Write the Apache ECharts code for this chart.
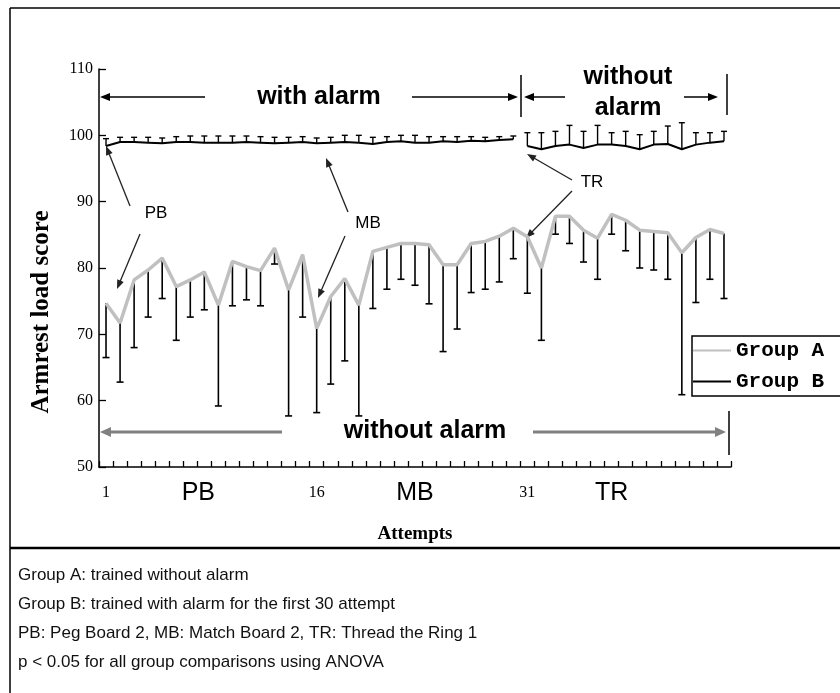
<!DOCTYPE html>
<html><head><meta charset="utf-8">
<script src="https://cdn.jsdelivr.net/npm/echarts@6/dist/echarts.min.js"></script>
<style>html,body{margin:0;padding:0;background:#fff}#c{width:840px;height:693px}</style>
</head><body><div id="c"></div>
<script>
// ---------------- data ----------------
const attempts = ['1','2','3','4','5','6','7','8','9','10','11','12','13','14','15',
  '16','17','18','19','20','21','22','23','24','25','26','27','28','29','30',
  '31','32','33','34','35','36','37','38','39','40','41','42','43','44','45'];
const shownTickLabels = ['1','16','31'];
const taskNames = ['PB','MB','TR'];
const taskLabelAttempt = ['8','23','37'];
const yTicks = [50,60,70,80,90,100,110];

// Group A (trained without alarm): mean and lower end of error bar
const groupAMean = [74.7,71.7,78.2,79.7,81.5,77.2,78.2,79.4,74.4,81.0,80.2,79.6,83.0,76.7,82.0,
  70.9,75.7,78.4,74.4,82.5,83.1,83.7,83.7,83.5,80.5,80.5,83.7,84.0,84.8,86.0,
  84.7,80.0,87.8,87.8,85.7,84.5,88.1,87.2,85.7,85.5,85.3,82.3,84.6,85.8,85.2];
const groupALow = [66.5,62.8,68.0,72.6,75.4,69.1,72.6,73.7,59.2,74.3,75.2,74.3,80.6,57.7,72.6,
  58.2,62.5,66.0,57.7,73.9,76.8,78.3,77.4,74.6,67.4,70.8,76.3,76.8,77.9,81.4,
  76.2,69.1,85.1,83.7,80.9,78.3,85.1,82.6,80.0,79.7,78.3,60.9,74.8,78.3,75.4];

// Group B, attempts 1-30 (with alarm): mean and upper end of error bar
const groupBAlarmMean = [98.4,99.0,99.0,98.9,98.8,99.0,99.0,98.9,98.9,98.9,99.0,98.9,98.8,98.9,99.0,
  98.8,98.9,99.0,98.9,98.7,99.0,99.1,98.9,98.9,99.1,99.0,99.2,99.1,99.3,99.4];
const groupBAlarmHigh = [99.5,99.7,99.7,99.7,99.6,99.8,99.9,99.9,99.9,99.9,99.9,99.8,99.7,99.7,99.8,
  99.6,99.7,100.0,100.0,99.7,99.8,100.0,100.0,99.8,99.8,99.8,99.8,99.7,99.8,99.9];
// Group B, attempts 31-45 (without alarm)
const groupBNoAlarmMean = [98.4,97.9,98.4,98.6,98.1,98.6,98.6,98.4,97.9,98.6,98.7,97.9,98.6,98.9,99.1];
const groupBNoAlarmHigh = [100.4,100.4,100.6,101.5,100.6,101.5,100.4,100.6,100.1,100.6,101.4,101.9,100.4,100.4,100.6];

const notes = [
  'Group A: trained without alarm',
  'Group B: trained with alarm for the first 30 attempt',
  'PB: Peg Board 2, MB: Match Board 2, TR: Thread the Ring 1',
  'p < 0.05 for all group comparisons using ANOVA'
];

// ---------------- build ----------------
const errA = groupAMean.map((m,i)=>[i, m, groupALow[i]]);
const errB = groupBAlarmMean.map((m,i)=>[i, m, groupBAlarmHigh[i]])
  .concat(groupBNoAlarmMean.map((m,i)=>[i+groupBAlarmMean.length, m, groupBNoAlarmHigh[i]]));
const lineB1 = attempts.map((_,i)=> i < groupBAlarmMean.length ? groupBAlarmMean[i] : null);
const lineB2 = attempts.map((_,i)=> i >= groupBAlarmMean.length ? groupBNoAlarmMean[i-groupBAlarmMean.length] : null);

function errRender(capW, lw){
  return function(params, api){
    const p1 = api.coord([api.value(0), api.value(1)]);
    const p2 = api.coord([api.value(0), api.value(2)]);
    return {type:'group', children:[
      {type:'line', shape:{x1:p1[0],y1:p1[1],x2:p2[0],y2:p2[1]}, style:{stroke:'#000', lineWidth:lw}},
      {type:'line', shape:{x1:p2[0]-capW/2,y1:p2[1],x2:p2[0]+capW/2,y2:p2[1]}, style:{stroke:'#000', lineWidth:lw}}
    ]};
  };
}

const labelMap = {};
shownTickLabels.forEach(v=>{ labelMap[attempts.indexOf(v)] = '{n|'+v+'}'; });
taskNames.forEach((t,k)=>{ labelMap[attempts.indexOf(taskLabelAttempt[k])] = '{'+(k===0?'p':'t')+'|'+t+'}'; });

function arrow(x1,y1,x2,y2,color,w,L,W){
  L = L||10; W = W||4;
  const a = Math.atan2(y2-y1, x2-x1), c=Math.cos(a), s=Math.sin(a);
  const bx = x2 - L*c, by = y2 - L*s;
  return [
    {type:'line', silent:true, shape:{x1:x1,y1:y1,x2:bx+2*c,y2:by+2*s}, style:{stroke:color, lineWidth:w}},
    {type:'polygon', silent:true, shape:{points:[[x2,y2],[bx - W*s, by + W*c],[bx + W*s, by - W*c]]}, style:{fill:color}}
  ];
}
function txt(x,y,t,font){
  return {type:'text', silent:true, x:x, y:y, style:{text:t, font:font, fill:'#000', textAlign:'center', textVerticalAlign:'middle'}};
}

const g = [];
// frame
g.push({type:'line', silent:true, shape:{x1:10,y1:8,x2:840,y2:8}, style:{stroke:'#000', lineWidth:1.5}});
g.push({type:'line', silent:true, shape:{x1:10,y1:8,x2:10,y2:693}, style:{stroke:'#000', lineWidth:1.5}});
g.push({type:'line', silent:true, shape:{x1:10,y1:548,x2:840,y2:548}, style:{stroke:'#000', lineWidth:2.5}});
// notes
notes.forEach((t,i)=>{
  g.push({type:'text', silent:true, x:18, y:575+i*29, style:{text:t, font:'17px "Liberation Sans"', fill:'#111', textAlign:'left', textVerticalAlign:'middle'}});
});
// y-axis title
g.push({type:'text', silent:true, x:42, y:312, rotation:Math.PI/2,
  style:{text:'Armrest load score', font:'bold 25px "Liberation Serif"', fill:'#000', textAlign:'center', textVerticalAlign:'middle'}});
// x-axis title
g.push(txt(415,534,'Attempts','bold 19px "Liberation Serif"'));
// top annotations
g.push(txt(319,97,'with alarm','bold 25px "Liberation Sans"'));
g.push(...arrow(205,97,100,97,'#000',1.5));
g.push(...arrow(412,97,518,97,'#000',1.5));
g.push({type:'line', silent:true, shape:{x1:521,y1:75,x2:521,y2:117}, style:{stroke:'#000', lineWidth:1.5}});
g.push(txt(628,77,'without','bold 25px "Liberation Sans"'));
g.push(txt(628,108,'alarm','bold 25px "Liberation Sans"'));
g.push(...arrow(565,97,524,97,'#000',1.5));
g.push(...arrow(684,97,718,97,'#000',1.5));
g.push({type:'line', silent:true, shape:{x1:727,y1:74,x2:727,y2:115}, style:{stroke:'#000', lineWidth:1.5}});
// bottom annotation
g.push(txt(425,431,'without alarm','bold 25px "Liberation Sans"'));
g.push(...arrow(282,432,100,432,'#808080',3,11,5));
g.push(...arrow(533,432,726,432,'#808080',3,11,5));
g.push({type:'line', silent:true, shape:{x1:729,y1:411,x2:729,y2:455}, style:{stroke:'#000', lineWidth:1.5}});
// task annotations
g.push(txt(156,213,'PB','17px "Liberation Sans"'));
g.push(...arrow(130,206,106,146,'#222',1.3,9,3.5));
g.push(...arrow(140,234,117,289,'#222',1.3,9,3.5));
g.push(txt(368,223,'MB','17px "Liberation Sans"'));
g.push(...arrow(348,212,326,158,'#222',1.3,9,3.5));
g.push(...arrow(345,236,318,298,'#222',1.3,9,3.5));
g.push(txt(592,182,'TR','17px "Liberation Sans"'));
g.push(...arrow(572,180,527,154,'#222',1.3,9,3.5));
g.push(...arrow(572,191,526,238,'#222',1.3,9,3.5));

const chart = echarts.init(document.getElementById('c'), null, {renderer:'canvas'});
chart.setOption({
  animation:false,
  backgroundColor:'#fff',
  grid:{left:99, top:69, right:109, bottom:226, containLabel:false},
  legend:{
    left:692, top:336, orient:'vertical', data:['Group A','Group B'], selectedMode:false,
    itemWidth:38, itemHeight:22, itemGap:10, padding:[4,40,4,0],
    borderColor:'#000', borderWidth:1.5, borderRadius:0,
    itemStyle:{opacity:0},
    textStyle:{fontFamily:'"Liberation Mono"', fontWeight:'bold', fontSize:21, color:'#000'}
  },
  xAxis:{
    type:'category', data:attempts, boundaryGap:true,
    axisLine:{lineStyle:{color:'#000', width:1.5}},
    axisTick:{show:true, inside:true, length:6, interval:0, lineStyle:{color:'#000', width:1.3}},
    axisLabel:{
      interval:(idx)=> labelMap.hasOwnProperty(idx),
      formatter:(v,idx)=> labelMap[idx] || '',
      margin:12,
      rich:{
        n:{fontFamily:'"Liberation Serif"', fontSize:16, color:'#000', lineHeight:28},
        t:{fontFamily:'"Liberation Sans"', fontSize:25, color:'#000', lineHeight:28},
        p:{fontFamily:'"Liberation Sans"', fontSize:25, color:'#000', lineHeight:28, padding:[0,12,0,0]}
      }
    },
    splitLine:{show:false}
  },
  yAxis:{
    type:'value', min:yTicks[0], max:yTicks[yTicks.length-1], interval:10,
    axisLine:{show:true, lineStyle:{color:'#000', width:1.5}},
    axisTick:{show:true, inside:true, length:7, lineStyle:{color:'#000', width:1.3}},
    axisLabel:{fontFamily:'"Liberation Serif"', fontSize:16, color:'#000', margin:6},
    splitLine:{show:false}
  },
  series:[
    {type:'custom', name:'errA', renderItem:errRender(7,1.6), data:errA, encode:{x:0,y:[1,2]}, z:2, silent:true},
    {type:'line', name:'Group A', data:groupAMean, symbol:'none', z:3,
      lineStyle:{color:'#c0c0c0', width:3.5}, itemStyle:{color:'#c0c0c0'}},
    {type:'custom', name:'errB', renderItem:errRender(6,1.4), data:errB, encode:{x:0,y:[1,2]}, z:2, silent:true},
    {type:'line', name:'Group B', data:lineB1, symbol:'none', z:4,
      lineStyle:{color:'#000', width:2}, itemStyle:{color:'#000'}},
    {type:'line', name:'Group B', data:lineB2, symbol:'none', z:4,
      lineStyle:{color:'#000', width:2}, itemStyle:{color:'#000'}}
  ],
  graphic:g
});
</script></body></html>
